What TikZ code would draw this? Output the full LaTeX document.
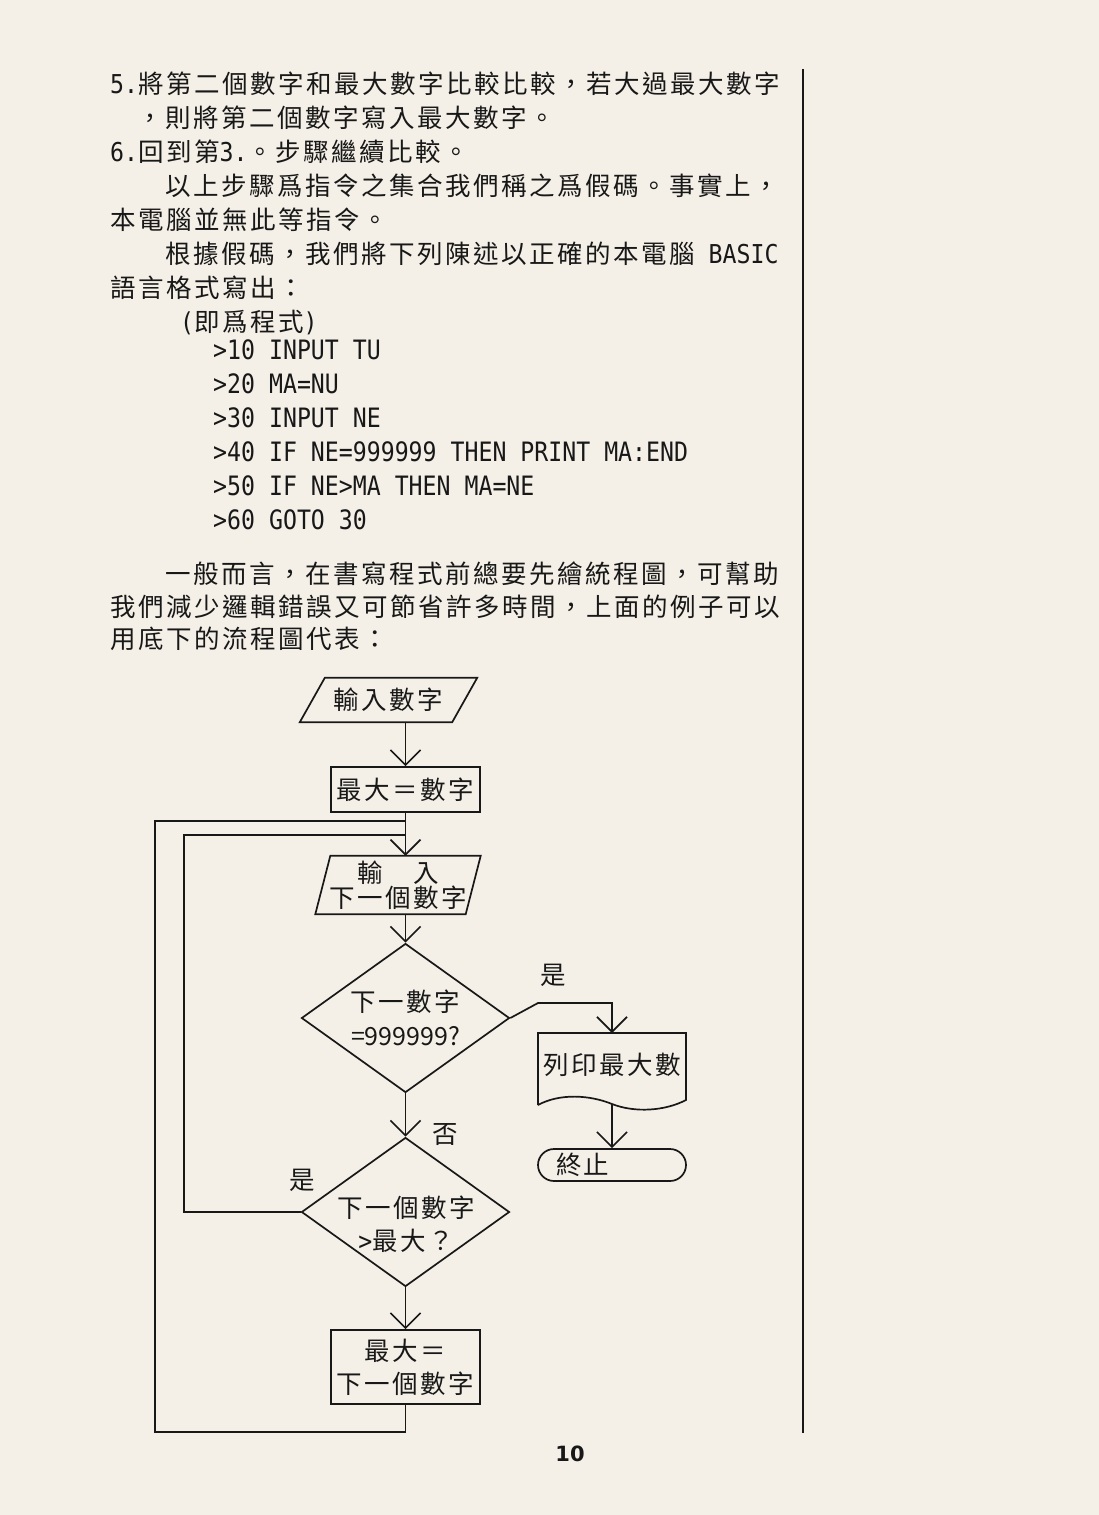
\documentclass[tikz,border=0pt]{standalone}
\usepackage{fontspec}
\usetikzlibrary{arrows.meta,shapes.geometric,calc}
\newfontfamily\cjk[LetterSpace=9.8]{Noto Sans CJK TC}
\newfontfamily\cjkplain{Noto Sans CJK TC}
\newfontfamily\monof{DejaVu Sans Mono}
\newfontfamily\pnumf{DejaVu Sans}
\newcommand\lat[1]{{\monof\fontsize{23.2}{34}\selectfont\scalebox{1}[1.12]{#1}}}
\newcommand\codetxt[1]{\scalebox{1}[1.15]{#1}}
\definecolor{paper}{RGB}{244,240,231}
\definecolor{ink}{RGB}{24,24,24}
\tikzset{
  txtline/.style={anchor=base west, inner sep=0pt, text=ink, font=\cjk\fontsize{25.5}{34}\selectfont},
  codeline/.style={anchor=base west, inner sep=0pt, text=ink, font=\monof\fontsize{23.2}{34}\selectfont},
  fline/.style={draw=ink, line width=1.7pt},
  arr/.style={-{Straight Barb[length=15pt,width=30pt]}},
  ftext/.style={inner sep=0pt, text=ink, align=center, font=\cjk\fontsize{25.5}{34}\selectfont},
  procbox/.style={ftext, fline, minimum width=149pt},
  decbox/.style={ftext, fline, diamond, aspect=1.4, minimum width=208pt, minimum height=149pt},
  lbl/.style={inner sep=0pt, text=ink, font=\cjk\fontsize{25.5}{34}\selectfont}
}
\begin{document}
\begin{tikzpicture}[x=1pt,y=-1pt]
\fill[paper] (0,0) rectangle (1099,1515);
\useasboundingbox (0,0) rectangle (1099,1515);

% ---- body text ----
\node[txtline] (t1) at (110,93) {\lat{5.}將第二個數字和最大數字比較比較，若大過最大數字};
\node[txtline] (t2) at (137,127) {，則將第二個數字寫入最大數字。};
\node[txtline] (t3) at (110,161) {\lat{6.}回到第\lat{3.}。步驟繼續比較。};
\node[txtline] (t4) at (165,195) {以上步驟爲指令之集合我們稱之爲假碼。事實上，};
\node[txtline] (t5) at (110,229) {本電腦並無此等指令。};
\node[txtline] (t6) at (165,263) {根據假碼，我們將下列陳述以正確的本電腦\lat{ BASIC}};
\node[txtline] (t7) at (110,297) {語言格式寫出：};
\node[txtline] (t8) at (180,331) {\lat{(}即爲程式\lat{)}};
\node[codeline] (c1) at (213,359.5) {\codetxt{>10 INPUT TU}};
\node[codeline] (c2) at (213,393.5) {\codetxt{>20 MA=NU}};
\node[codeline] (c3) at (213,427.5) {\codetxt{>30 INPUT NE}};
\node[codeline] (c4) at (213,461.5) {\codetxt{>40 IF NE=999999 THEN PRINT MA:END}};
\node[codeline] (c5) at (213,495.5) {\codetxt{>50 IF NE>MA THEN MA=NE}};
\node[codeline] (c6) at (213,529.5) {\codetxt{>60 GOTO 30}};
\node[txtline] (t9) at (165,583) {一般而言，在書寫程式前總要先繪統程圖，可幫助};
\node[txtline] (t10) at (110,616) {我們減少邏輯錯誤又可節省許多時間，上面的例子可以};
\node[txtline] (t11) at (110,648) {用底下的流程圖代表：};

% ---- column rule ----
\draw[draw=ink, line width=2pt] (803,69) -- (803,1433);

% ---- flowchart nodes ----
\node[ftext, minimum width=152pt, minimum height=44pt] (in1) at (388.5,700) {輸入數字};
\draw[fline] ($(in1.south west)+(-12.5,0)$) -- ($(in1.north west)+(12.5,0)$)
   -- ($(in1.north east)+(12.5,0)$) -- ($(in1.south east)+(-12.5,0)$) -- cycle;

\node[procbox, minimum height=45pt] (box1) at (405.5,789.5) {最大＝數字};

\node[ftext, minimum width=150pt, minimum height=58pt, font=\cjk\fontsize{25.5}{25}\selectfont] (in2) at (398,885) {輸　入\\下一個數字};
\draw[fline] ($(in2.south west)+(-7.5,0)$) -- ($(in2.north west)+(7.5,0)$)
   -- ($(in2.north east)+(7.5,0)$) -- ($(in2.south east)+(-7.5,0)$) -- cycle;

\node[decbox] (d1) at (405.5,1018) {下一數字\\{\cjkplain\fontsize{25}{34}\selectfont =999999?}};

\node[decbox] (d2) at (405.5,1212) {};
\node[ftext, font=\cjk\fontsize{25.5}{33}\selectfont] (d2t) at (406,1224) {下一個數字\\\lat{>}最大？};

\node[procbox, minimum height=74pt, font=\cjk\fontsize{25.5}{33}\selectfont] (box2) at (405.5,1367) {最大＝\\下一個數字};

% document symbol
\coordinate (dtop) at (612,1033);
\coordinate (dbot) at (612,1104);
\draw[fline] (538,1105) -- (538,1033) -- (686,1033) -- (686,1100)
   .. controls (665,1111) and (635,1113) .. (612,1104)
   .. controls (590,1095) and (560,1093) .. (538,1105);
\node[ftext] (doc) at (612,1065) {列印最大數};

% terminator
\node[fline, rounded corners=16pt, minimum width=148pt, minimum height=32pt, inner sep=0pt, text=ink, font=\cjk\fontsize{25.5}{34}\selectfont] (term) at (612,1165) {\makebox[112pt][l]{終止}};

% ---- connectors ----
\coordinate (jo) at (405.5,821);
\coordinate (ji) at (405.5,835);
\coordinate (oc) at (155,1432);
\coordinate (ic) at (184,835);
\coordinate (yb) at (538,1003);

\draw[fline,arr] (box1.north |- in1.south) -- (box1.north);
\draw[fline,arr] (box1.south) -- (box1.south |- in2.north);
\draw[fline,arr] (d1.north |- in2.south) -- (d1.north);
\draw[fline,arr] (d1.south) -- (d2.north);
\draw[fline,arr] (d2.south) -- (box2.north);
\draw[fline] (box2.south) |- (oc) |- (jo);
\draw[fline] (d2.west) -| (ic) -- (ji);
\draw[fline,arr] (d1.east) -- (yb) -| (dtop);
\draw[fline,arr] (dbot) -- (term.north);

% labels
\node[lbl] (ly1) at (553,975) {是};
\node[lbl] (ln) at (445,1135) {否};
\node[lbl] (ly2) at (302,1180) {是};

% page number
\node[inner sep=0pt, text=ink, font=\pnumf\bfseries\fontsize{21}{21}\selectfont] (pg) at (570,1454) {10};
\end{tikzpicture}
\end{document}
